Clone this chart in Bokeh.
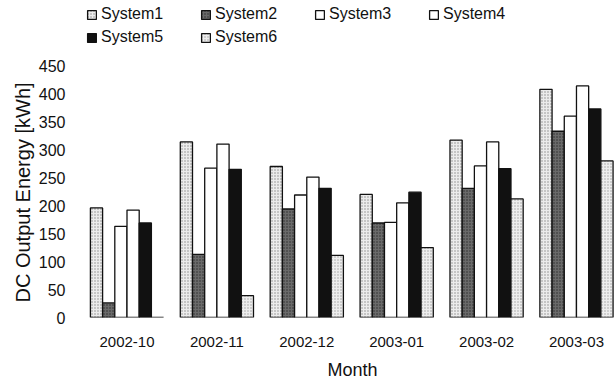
from bokeh.plotting import figure
from bokeh.models import ColumnDataSource, Range1d, Legend, LegendItem, FixedTicker, Title
from bokeh.transform import dodge
from bokeh.embed import file_html
from bokeh.resources import INLINE

months = ["2002-10", "2002-11", "2002-12", "2003-01", "2003-02", "2003-03"]
system1 = [196, 314, 270, 220, 317, 408]
system2 = [26, 113, 194, 169, 231, 333]
system3 = [163, 267, 219, 170, 271, 360]
system4 = [192, 310, 251, 205, 314, 414]
system5 = [169, 265, 231, 224, 266, 373]
system6 = [0, 39, 111, 125, 212, 280]
series_names = ["System1", "System2", "System3", "System4", "System5", "System6"]
y_ticks = [0, 50, 100, 150, 200, 250, 300, 350, 400, 450]

src = ColumnDataSource(dict(x=list(range(len(months))), s1=system1, s2=system2,
                            s3=system3, s4=system4, s5=system5, s6=system6))

FONT = "Liberation Sans"
# frame spans the full height above the x axis so the legend (drawn in the frame) is visible;
# only ticks 0..450 are labelled
p = figure(width=614, height=388, output_backend="svg", toolbar_location=None,
           x_range=Range1d(-0.673, 5.423), y_range=Range1d(0, 566.8),
           min_border_left=66, min_border_right=0, min_border_top=0, min_border_bottom=71)
p.outline_line_color = None
p.xgrid.grid_line_color = None
p.ygrid.grid_line_color = None

bw = 0.1357
styles = [
    dict(fill_color="#ececec", hatch_pattern="dot", hatch_color="#8a8a8a", hatch_scale=3, hatch_weight=1),
    dict(fill_color="#6a6a6a", hatch_pattern="dot", hatch_color="#2a2a2a", hatch_scale=3, hatch_weight=1),
    dict(fill_color="white"),
    dict(fill_color="white"),
    dict(fill_color="#111111"),
    dict(fill_color="#eeeeee", hatch_pattern="dot", hatch_color="#a0a0a0", hatch_scale=3, hatch_weight=1),
]
cols = ["s1", "s2", "s3", "s4", "s5", "s6"]
renderers = []
for i, (c, st) in enumerate(zip(cols, styles)):
    off = (i - 2.5) * bw
    r = p.vbar(x=dodge("x", off, range=p.x_range), top=c, width=bw, source=src,
               line_color="#111111", line_width=1.3, **st)
    renderers.append(r)

p.xaxis.ticker = FixedTicker(ticks=list(range(len(months))))
p.xaxis.major_label_overrides = {i: m for i, m in enumerate(months)}
p.yaxis.ticker = FixedTicker(ticks=y_ticks)
for ax in (p.xaxis[0], p.yaxis[0]):
    ax.axis_line_color = None
    ax.major_tick_line_color = None
    ax.minor_tick_line_color = None
    ax.major_tick_out = 0
    ax.major_tick_in = 0
    ax.major_label_text_font = FONT
    ax.major_label_text_color = "#111111"
p.xaxis.major_label_text_font_size = "15px"
p.yaxis.major_label_text_font_size = "16px"
p.xaxis.major_label_standoff = 19
p.yaxis.major_label_standoff = 1

p.add_layout(Title(text="DC Output Energy [kWh]", align="left", offset=15, text_font=FONT,
                   text_font_size="20px", text_font_style="normal",
                   text_color="#111111", standoff=4), "left")
p.add_layout(Title(text="Month", align="left", offset=261, text_font=FONT,
                   text_font_size="18px", text_font_style="normal",
                   text_color="#111111", standoff=17), "below")

items = [LegendItem(label=n, renderers=[r]) for n, r in zip(series_names, renderers)]
legend = Legend(items=items, ncols=4, orientation="horizontal", location=(20, 270),
                padding=0, margin=0, spacing=3, glyph_width=11, glyph_height=11,
                label_standoff=4, label_height=20, label_width=96, label_text_font=FONT,
                label_text_font_size="16px", label_text_color="#111111",
                border_line_color=None, background_fill_alpha=0)
p.add_layout(legend, "center")

open("out.html", "w").write(file_html(p, INLINE))
